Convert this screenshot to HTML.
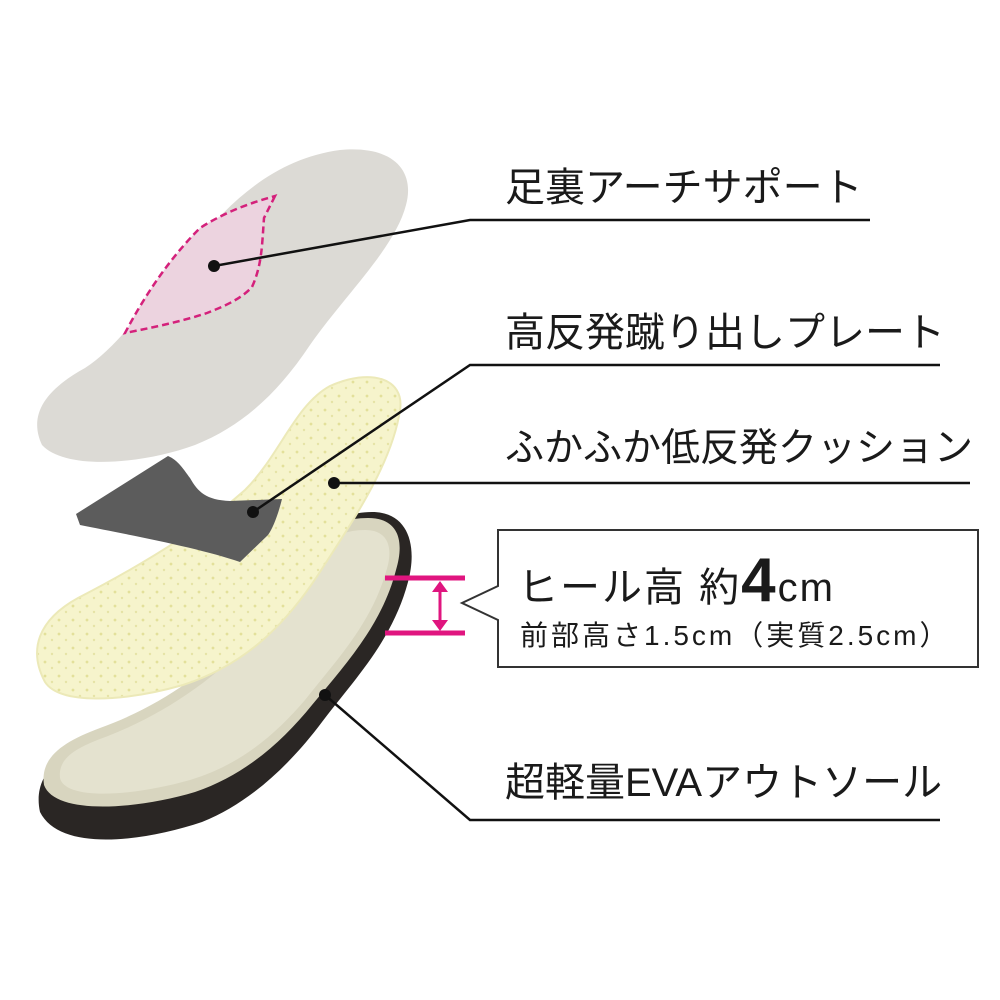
<!DOCTYPE html>
<html><head><meta charset="utf-8"><style>
body{margin:0;background:#fff;}
svg{display:block}
text{font-family:"Liberation Sans","Noto Sans CJK JP",sans-serif;fill:#1a1a1a}
</style></head><body>
<svg width="1000" height="1000" viewBox="0 0 1000 1000" xmlns="http://www.w3.org/2000/svg">
<defs>
<pattern id="dots" width="14" height="14" patternUnits="userSpaceOnUse">
<rect width="14" height="14" fill="#f6f4cc"/>
<circle cx="3" cy="4" r="1.4" fill="#e3e09a"/>
<circle cx="10" cy="10" r="1.2" fill="#e6e3a6"/>
</pattern>
</defs>
<path d="M40,812 C32,775 60,752 100,737 C170,712 240,662 280,592 C310,542 330,512 372,512 C408,512 418,545 408,582 C392,642 352,682 322,722 C292,762 252,802 202,822 C142,842 60,852 40,812 Z" fill="#2a2624"/>
<path d="M44,785 C40,758 62,742 100,728 C170,703 240,652 280,585 C308,540 328,518 368,518 C398,518 405,540 396,570 C382,625 345,665 312,705 C282,742 245,775 195,792 C135,810 55,815 44,785 Z" fill="#d8d5bf"/>
<path d="M60,778 C58,758 75,748 108,736 C175,710 245,660 285,595 C310,552 330,530 365,530 C390,530 394,550 385,575 C370,625 335,662 305,700 C275,735 240,765 190,780 C130,797 65,800 60,778 Z" fill="#e4e2cf"/>
<path d="M45,682 C28,650 38,620 78,598 C140,566 200,530 245,490 C280,455 295,405 330,386 C370,368 405,378 400,410 C392,465 350,525 318,575 C285,625 245,665 183,685 C123,702 60,705 45,682 Z" fill="url(#dots)" stroke="#ece9b8" stroke-width="2"/>
<path d="M76,514 L168,456 C178,460 184,470 190,478 C198,492 206,500 230,501 L282,499 C278,515 273,528 268,535 L240,562 C200,548 130,535 80,525 Z" fill="#5c5c5c"/>
<path d="M42,445 C28,415 45,390 85,368 C120,345 150,300 195,245 C235,195 280,158 340,150 C395,145 415,172 406,205 C395,248 345,295 310,345 C280,390 245,425 195,445 C140,465 65,470 42,445 Z" fill="#dcdad5"/>
<path d="M275,196 L264,218 C262,245 262,265 252,287 C240,300 222,307 207,313 C180,322 150,328 125,333 C145,295 170,258 200,228 C225,212 250,203 275,196 Z" fill="#ecd3df" stroke="#d4217b" stroke-width="2.5" stroke-dasharray="7,4"/>
<g stroke="#111" stroke-width="2.5" fill="none">
<polyline points="214,266 470,220 870,220"/>
<polyline points="253,512 470,365 940,365"/>
<polyline points="334,483 970,483"/>
<polyline points="325,695 470,820 940,820"/>
</g>
<g fill="#111">
<circle cx="214" cy="266" r="6"/>
<circle cx="253" cy="512" r="6"/>
<circle cx="334" cy="483" r="6"/>
<circle cx="325" cy="695" r="6"/>
</g>
<g stroke="#e0157f" stroke-width="5">
<line x1="385" y1="578" x2="465" y2="578"/>
<line x1="385" y1="633" x2="465" y2="633"/>
<line x1="440" y1="586" x2="440" y2="625" stroke-width="3"/>
</g>
<path d="M432,592 L440,581 L448,592 Z M432,620 L440,631 L448,620 Z" fill="#e0157f"/>
<path d="M498,530 L978,530 L978,667 L498,667 L498,620 L462,603 L498,586 Z" fill="#fff" stroke="#333" stroke-width="2"/>
<text x="505" y="201" font-size="40">足裏アーチサポート</text>
<text x="505" y="346" font-size="40">高反発蹴り出しプレート</text>
<text x="505" y="461" font-size="39">ふかふか低反発クッション</text>
<text x="518" y="601" font-size="40" letter-spacing="2">ヒール高 約<tspan font-size="62" font-weight="bold">4</tspan>cm</text>
<text x="520" y="645" font-size="28" letter-spacing="3">前部高さ1.5cm（実質2.5cm）</text>
<text x="505" y="796" font-size="40">超軽量EVAアウトソール</text>
</svg>
</body></html>
